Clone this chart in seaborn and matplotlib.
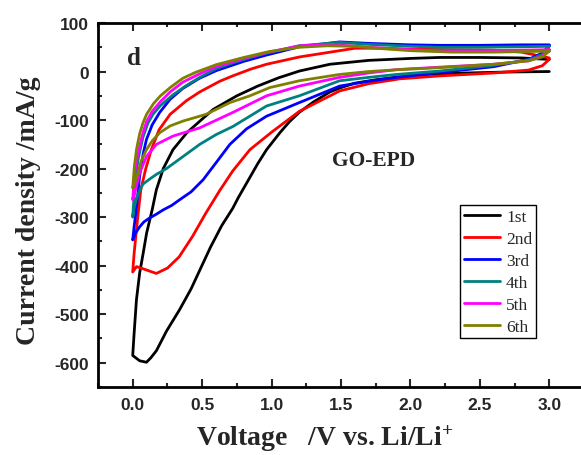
import matplotlib
matplotlib.use("Agg")
import matplotlib.pyplot as plt
import numpy as np
import pandas as pd
import seaborn as sns
from matplotlib.ticker import MultipleLocator, FormatStrFormatter

# ---------------- data ----------------
cycles = ["1st", "2nd", "3rd", "4th", "5th", "6th"]
colors = ["#000000", "#FF0000", "#0000FF", "#008080", "#FF00FF", "#808000"]

# cycle 1
v1_cath = [3.0, 2.7, 2.4, 2.2, 2.0, 1.75, 1.6, 1.5, 1.42, 1.3, 1.2, 1.13, 1.06, 0.964, 0.9, 0.83, 0.76, 0.72, 0.64, 0.56, 0.49, 0.42, 0.339, 0.243, 0.171, 0.13, 0.099, 0.05, 0.0]
i1_cath = [0, -1, -3, -5, -8, -17, -24, -33, -42, -63, -84, -103, -126, -161, -190, -225, -260, -282, -318, -362, -405, -448, -490, -535, -575, -590, -599, -596, -585]
v1_anod = [0.0, 0.01, 0.027, 0.05, 0.075, 0.10, 0.14, 0.17, 0.22, 0.29, 0.39, 0.5, 0.58, 0.75, 0.9, 1.05, 1.2, 1.42, 1.7, 2.0, 2.21, 2.5, 2.8, 3.0]
i1_anod = [-585, -540, -470, -415, -375, -333, -285, -244, -200, -161, -126, -98, -78, -50, -30, -13, 1, 15, 23, 27, 29, 29, 28, 25]

# cycle 2
v2_cath = [3.0, 2.95, 2.85, 2.6, 2.21, 1.925, 1.7, 1.49, 1.2, 1.0, 0.844, 0.72, 0.627, 0.526, 0.43, 0.334, 0.25, 0.17, 0.1, 0.05, 0.027, 0.0]
i2_cath = [25, 12, 3, -3, -9, -15, -25, -40, -82, -125, -161, -205, -245, -292, -340, -382, -405, -416, -409, -404, -402, -413]
v2_anod = [0.0, 0.01, 0.034, 0.058, 0.094, 0.135, 0.19, 0.27, 0.387, 0.483, 0.627, 0.72, 0.85, 0.964, 1.2, 1.49, 1.6, 1.8, 2.0, 2.3, 2.6, 2.8, 3.0]
i2_anod = [-413, -375, -306, -244, -200, -160, -120, -88, -60, -42, -20, -9, 5, 15, 30, 43, 48, 48, 46, 45, 44, 40, 28]

# cycle 3
v3_cath = [3.0, 2.95, 2.85, 2.6, 2.21, 1.9, 1.7, 1.49, 1.2, 0.964, 0.82, 0.70, 0.6, 0.507, 0.42, 0.339, 0.28, 0.22, 0.17, 0.12, 0.08, 0.05, 0.02, 0.0]
i3_cath = [54, 38, 25, 10, -2, -12, -20, -30, -64, -92, -118, -150, -188, -223, -248, -264, -276, -285, -294, -302, -310, -320, -333, -347]
v3_anod = [0.0, 0.01, 0.027, 0.05, 0.075, 0.099, 0.14, 0.195, 0.27, 0.36, 0.48, 0.603, 0.8, 0.964, 1.2, 1.49, 1.7, 2.0, 2.21, 2.5, 2.8, 3.0]
i3_anod = [-347, -320, -280, -215, -170, -140, -110, -84, -57, -35, -14, 2, 21, 34, 51, 61, 58, 55, 54, 54, 55, 55]

# cycle 4
v4_cath = [3.0, 2.95, 2.85, 2.6, 2.21, 1.9, 1.7, 1.49, 1.2, 0.964, 0.723, 0.6, 0.483, 0.363, 0.243, 0.17, 0.12, 0.074, 0.05, 0.027, 0.01, 0.0]
i4_cath = [52, 35, 24, 13, 1, -6, -12, -19, -50, -71, -113, -130, -150, -175, -200, -212, -222, -232, -245, -262, -280, -300]
v4_anod = [0.0, 0.014, 0.038, 0.074, 0.11, 0.146, 0.2, 0.29, 0.38, 0.483, 0.6, 0.723, 0.85, 0.964, 1.2, 1.49, 1.7, 2.0, 2.21, 2.5, 2.8, 3.0]
i4_anod = [-300, -237, -182, -135, -106, -88, -70, -48, -30, -12, 6, 18, 29, 38, 53, 60, 56, 52, 50, 50, 51, 52]

# cycle 5
v5_cath = [3.0, 2.95, 2.85, 2.6, 2.21, 1.9, 1.7, 1.49, 1.2, 0.964, 0.723, 0.483, 0.29, 0.171, 0.099, 0.05, 0.014, 0.0]
i5_cath = [45, 32, 22, 15, 9, 4, -3, -12, -30, -50, -84, -116, -133, -150, -175, -209, -250, -264]
v5_anod = [0.0, 0.014, 0.03, 0.05, 0.075, 0.1, 0.14, 0.2, 0.27, 0.36, 0.48, 0.6, 0.8, 0.964, 1.2, 1.42, 1.7, 2.0, 2.21, 2.5, 2.8, 3.0]
i5_anod = [-264, -209, -180, -154, -125, -103, -82, -62, -42, -22, -5, 10, 27, 39, 53, 56, 50, 45, 43, 43, 44, 45]

# cycle 6
v6_cath = [3.0, 2.95, 2.85, 2.6, 2.21, 1.925, 1.7, 1.49, 1.2, 0.988, 0.844, 0.7, 0.53, 0.363, 0.27, 0.195, 0.14, 0.099, 0.06, 0.038, 0.015, 0.0]
i6_cath = [42, 30, 22, 15, 8, 4, 0, -6, -19, -33, -50, -64, -88, -102, -112, -126, -143, -161, -185, -209, -228, -240]
v6_anod = [0.0, 0.012, 0.027, 0.05, 0.075, 0.1, 0.15, 0.2, 0.27, 0.36, 0.45, 0.6, 0.8, 0.98, 1.2, 1.4, 1.6, 1.8, 2.0, 2.3, 2.6, 2.8, 3.0]
i6_anod = [-240, -195, -161, -128, -105, -88, -66, -50, -33, -14, -2, 14, 29, 41, 50, 53, 52, 47, 43, 40, 40, 41, 42]

cath_v = [v1_cath, v2_cath, v3_cath, v4_cath, v5_cath, v6_cath]
cath_i = [i1_cath, i2_cath, i3_cath, i4_cath, i5_cath, i6_cath]
anod_v = [v1_anod, v2_anod, v3_anod, v4_anod, v5_anod, v6_anod]
anod_i = [i1_anod, i2_anod, i3_anod, i4_anod, i5_anod, i6_anod]

rows = []
for name, vc, ic, va, ia in zip(cycles, cath_v, cath_i, anod_v, anod_i):
    vv = list(vc) + list(va)
    ii = list(ic) + list(ia)
    for k, (x, y) in enumerate(zip(vv, ii)):
        rows.append((name, k, x, y))
df = pd.DataFrame(rows, columns=["cycle", "step", "V", "I"])

# ---------------- figure ----------------
sns.set_style("ticks")
plt.rcParams["font.family"] = ["Liberation Sans", "DejaVu Sans"]
plt.rcParams["axes.unicode_minus"] = False
plt.rcParams["mathtext.default"] = "regular"

W, H = 581, 456
fig = plt.figure(figsize=(W / 100, H / 100), dpi=100)
ax = fig.add_axes([98 / W, 1 - 388 / H, 486 / W, 364 / H])

sns.lineplot(data=df, x="V", y="I", hue="cycle", hue_order=cycles,
             palette=colors, sort=False, estimator=None, linewidth=2.0, ax=ax)

ax.set_xlim(-0.25, 3.25)
ax.set_ylim(-650, 100)

ax.xaxis.set_major_locator(MultipleLocator(0.5))
ax.xaxis.set_minor_locator(MultipleLocator(0.25))
ax.xaxis.set_major_formatter(FormatStrFormatter("%.1f"))
ax.yaxis.set_major_locator(MultipleLocator(100))
ax.yaxis.set_minor_locator(MultipleLocator(50))

ax.tick_params(which="both", direction="in", top=True, right=False, width=1.5)
ax.tick_params(which="major", length=6)
ax.tick_params(which="minor", length=3)
ax.tick_params(axis="y", pad=6.5)
ax.tick_params(axis="x", pad=7)
for lab in ax.get_xticklabels() + ax.get_yticklabels():
    lab.set_fontweight("bold")
    lab.set_fontsize(12.5)
    lab.set_family(["Liberation Sans", "DejaVu Sans"])

for s in ["top", "bottom", "left", "right"]:
    ax.spines[s].set_linewidth(2.0)
    ax.spines[s].set_color("black")

serif = ["Liberation Serif", "DejaVu Serif"]
ax.set_xlabel("Voltage   /V vs. Li/Li$^{+}$", fontsize=20, fontweight="bold", family=serif)
ax.set_ylabel("Current density /mA/g", fontsize=20, fontweight="bold", family=serif)
ax.xaxis.set_label_coords(0.467, -0.098)
ax.yaxis.set_label_coords(-0.117, 0.486)

ax.text(-0.043, 15, "d", fontsize=18, fontweight="bold", family=serif,
        ha="left", va="baseline")
ax.text(1.435, -192, "GO-EPD", fontsize=15.5, fontweight="bold", family=serif,
        ha="left", va="baseline")

old = ax.get_legend()
handles = old.legend_handles
for h in handles:
    h.set_linewidth(2.0)
leg = ax.legend(handles, cycles, loc="upper left", bbox_to_anchor=(0.745, 0.5),
                frameon=True, fancybox=False, edgecolor="black", framealpha=1,
                prop={"family": serif, "size": 12.5}, handlelength=2.1,
                labelspacing=0.34, borderpad=0.2, handletextpad=0.35,
                borderaxespad=0)
leg.get_frame().set_linewidth(1.0)

fig.savefig("out.png", dpi=100)
